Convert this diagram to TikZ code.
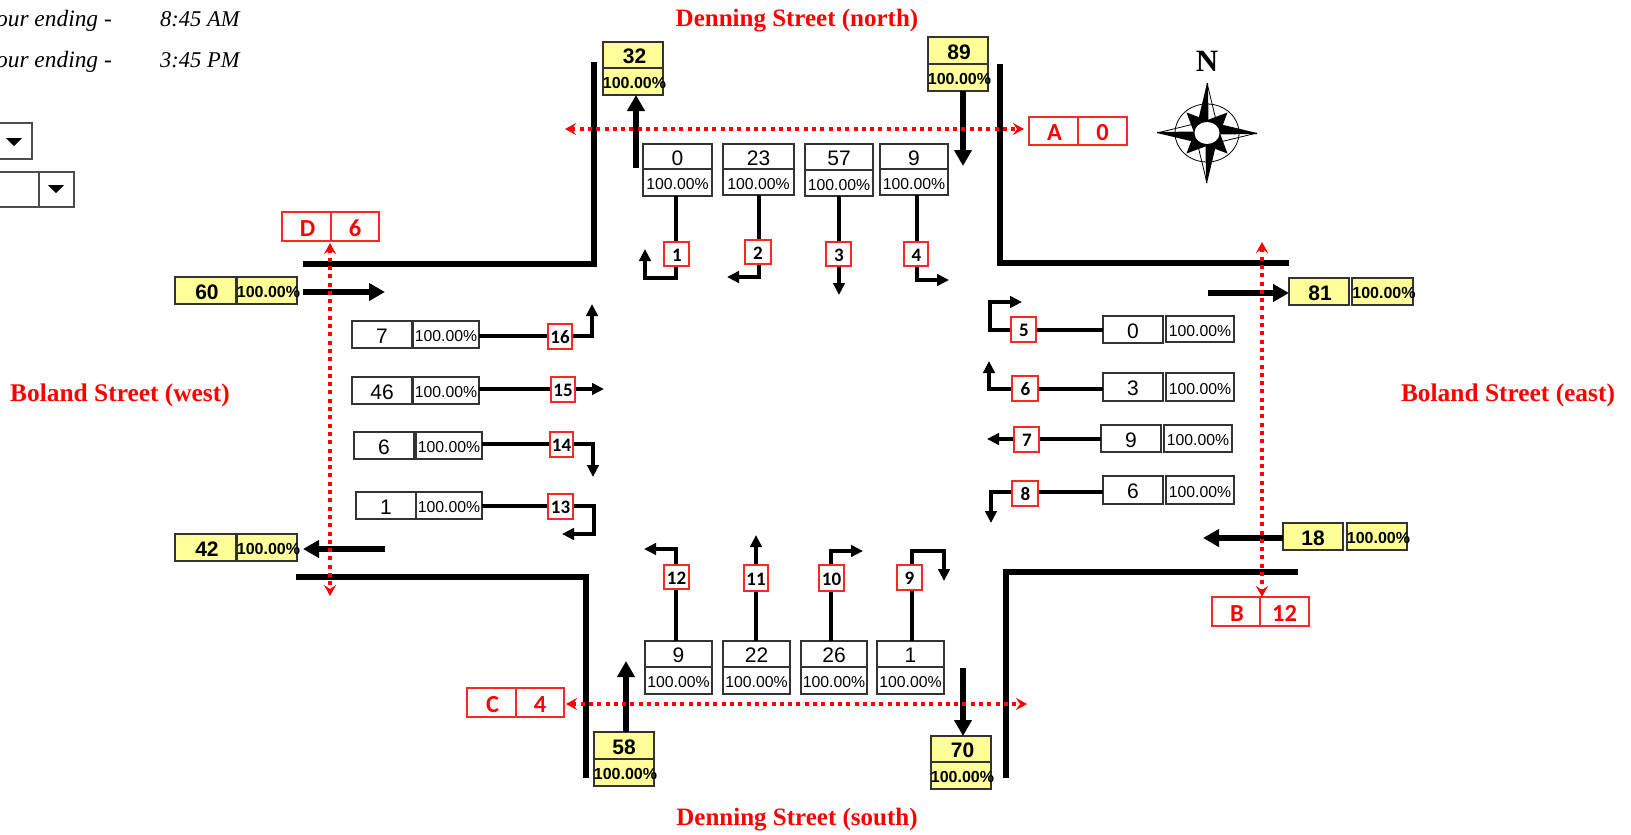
\documentclass[tikz,border=0pt]{standalone}
\usepackage{fontspec}
\setmainfont{Liberation Serif}
\setsansfont{Liberation Sans}
\newfontfamily\calib{Carlito}
\usetikzlibrary{arrows.meta}
\definecolor{boxline}{HTML}{333333}
\definecolor{sheetyellow}{HTML}{FFFF99}
\def\cellraise{0pt}
\tikzset{
  cellbase/.style={rectangle,inner sep=0pt,outer sep=0pt,line width=1.1pt},
  lanebox/.style={cellbase,draw=boxline,fill=white,font=\sffamily\fontsize{21}{24}\selectfont,execute at begin node={\def\cellraise{\dimexpr-0.36em-1pt\relax}}},
  lanepct/.style={cellbase,draw=boxline,fill=white,font=\sffamily\fontsize{15.8}{19}\selectfont,execute at begin node={\def\cellraise{\dimexpr-0.36em-1.5pt\relax}}},
  totalbox/.style={cellbase,draw=boxline,fill=sheetyellow,font=\sffamily\bfseries\fontsize{21}{24}\selectfont,execute at begin node={\def\cellraise{\dimexpr-0.36em-1pt\relax}}},
  totalpct/.style={cellbase,draw=boxline,fill=sheetyellow,font=\sffamily\bfseries\fontsize{16}{19}\selectfont,execute at begin node={\def\cellraise{\dimexpr-0.36em-1.5pt\relax}}},
  numbox/.style={cellbase,draw=red!85!white,fill=white,font=\calib\bfseries\fontsize{19}{22}\selectfont,execute at begin node={\def\cellraise{\dimexpr-0.32em-1pt\relax}}},
  pedbox/.style={cellbase,draw=red!85!white,fill=white,text=red,font=\calib\bfseries\fontsize{24.5}{26}\selectfont,execute at begin node={\def\cellraise{\dimexpr-0.32em-2pt\relax}}},
  streetname/.style={inner sep=0pt,text=red,font=\rmfamily\bfseries\fontsize{25}{28}\selectfont},
  boland/.style={inner sep=0pt,text=red,font=\rmfamily\bfseries\fontsize{25.4}{28}\selectfont},
  note/.style={inner sep=0pt,font=\rmfamily\itshape\fontsize{22.5}{26}\selectfont},
  noteleft/.style={inner sep=0pt,font=\rmfamily\itshape\fontsize{23.4}{26}\selectfont},
  road/.style={line width=5.5pt,miter limit=10},
  conn/.style={line width=4pt,-{Triangle[length=12pt,width=11.5pt]}},
  flow/.style={line width=6pt,-{Triangle[length=16pt,width=17pt]}},
  ped/.style={red,line width=4pt,dash pattern=on 4pt off 4.3pt,{Stealth[length=11pt,width=12pt,inset=4pt]}-{Stealth[length=11pt,width=12pt,inset=4pt]}},
  combo/.style={draw=black!70,line width=1.2pt},
}
\newcommand{\tcell}[7]{%
  \pgfmathsetmacro\cellw{#4-#2}\pgfmathsetmacro\cellh{#5-#3}%
  \node[#6,minimum width=\cellw pt,minimum height=\cellh pt] (#1) at ({(#2+#4)/2},{(#3+#5)/2}) {\makebox[0pt]{\raisebox{\cellraise}[0.3em][0.3em]{#7}}};}
\begin{document}
\begin{tikzpicture}[x=1pt,y=-1pt]
\path[use as bounding box,clip] (0,0) rectangle (1631,835);
\fill[white] (0,0) rectangle (1631,835);

% notes and controls
\node[noteleft,anchor=base east] (n1) at (112,26) {our ending -};
\node[note,anchor=base west] (n2) at (160,26) {8:45 AM};
\node[noteleft,anchor=base east] (n3) at (112,67) {our ending -};
\node[note,anchor=base west] (n4) at (160,67) {3:45 PM};
\draw[combo] (-5,123) rectangle (32,159);
\fill[black] (6,138) -- (22,138) -- (14,146) -- cycle;
\draw[combo] (-5,172) rectangle (74,207);
\draw[combo] (39,172) -- (39,207);
\fill[black] (48,185) -- (64,185) -- (56,193) -- cycle;

% street names
\node[streetname] (dn) at (797,21) {Denning Street (north)};
\node[streetname] (ds) at (797,820) {Denning Street (south)};
\node[boland] (bw) at (120,395) {Boland Street (west)};
\node[boland] (be) at (1508,395) {Boland Street (east)};

% roads
\draw[road] (303,264) -- (594,264) -- (594,62);
\draw[road] (1000,64) -- (1000,263) -- (1289,263);
\draw[road] (296,577) -- (586,577) -- (586,778);
\draw[road] (1006,778) -- (1006,572) -- (1298,572);

% north lanes
\tcell{na}{643}{144}{712}{169}{lanebox}{0}\tcell{nap}{643}{169}{712}{196}{lanepct}{100.00\%}
\tcell{nb}{723}{144}{794}{169}{lanebox}{23}\tcell{nbp}{723}{169}{794}{195}{lanepct}{100.00\%}
\tcell{nc}{805}{144}{873}{170}{lanebox}{57}\tcell{ncp}{805}{170}{873}{196}{lanepct}{100.00\%}
\tcell{nd}{880}{144}{948}{169}{lanebox}{9}\tcell{ndp}{880}{169}{948}{195}{lanepct}{100.00\%}
% west lanes
\tcell{wa}{352}{321}{412}{348}{lanebox}{7}\tcell{wap}{413}{321}{479}{348}{lanepct}{100.00\%}
\tcell{wb}{352}{377}{412}{404}{lanebox}{46}\tcell{wbp}{413}{377}{479}{404}{lanepct}{100.00\%}
\tcell{wc}{354}{432}{414}{459}{lanebox}{6}\tcell{wcp}{416}{432}{482}{459}{lanepct}{100.00\%}
\tcell{wd}{356}{492}{416}{519}{lanebox}{1}\tcell{wdp}{416}{492}{482}{519}{lanepct}{100.00\%}
% east lanes
\tcell{ea}{1103}{316}{1163}{343}{lanebox}{0}\tcell{eap}{1166}{316}{1234}{342}{lanepct}{100.00\%}
\tcell{eb}{1103}{373}{1163}{401}{lanebox}{3}\tcell{ebp}{1166}{373}{1234}{401}{lanepct}{100.00\%}
\tcell{ec}{1101}{425}{1161}{452}{lanebox}{9}\tcell{ecp}{1164}{425}{1232}{452}{lanepct}{100.00\%}
\tcell{ed}{1103}{476}{1163}{504}{lanebox}{6}\tcell{edp}{1166}{476}{1234}{504}{lanepct}{100.00\%}
% south lanes
\tcell{sa}{645}{641}{712}{667}{lanebox}{9}\tcell{sap}{645}{667}{712}{694}{lanepct}{100.00\%}
\tcell{sb}{723}{641}{790}{667}{lanebox}{22}\tcell{sbp}{723}{667}{790}{694}{lanepct}{100.00\%}
\tcell{sc}{801}{641}{867}{667}{lanebox}{26}\tcell{scp}{801}{667}{867}{694}{lanepct}{100.00\%}
\tcell{sd}{877}{641}{944}{667}{lanebox}{1}\tcell{sdp}{877}{667}{944}{694}{lanepct}{100.00\%}

% totals
\tcell{ya}{603}{42}{663}{68}{totalbox}{\hspace{3pt}32}\tcell{yap}{603}{68}{663}{95}{totalpct}{\hspace{3pt}100.00\%}
\tcell{yb}{928}{37}{988}{64}{totalbox}{\hspace{2pt}89}\tcell{ybp}{928}{64}{988}{91}{totalpct}{\hspace{3pt}100.00\%}
\tcell{yc}{175}{277}{236}{304}{totalbox}{\hspace{3pt}60}\tcell{ycp}{237}{277}{297}{304}{totalpct}{\hspace{3pt}100.00\%}
\tcell{yd}{175}{534}{236}{561}{totalbox}{\hspace{3pt}42}\tcell{ydp}{237}{534}{297}{561}{totalpct}{\hspace{3pt}100.00\%}
\tcell{ye}{1289}{278}{1349}{305}{totalbox}{\hspace{2pt}81}\tcell{yep}{1352}{278}{1413}{305}{totalpct}{\hspace{3pt}100.00\%}
\tcell{yf}{1283}{523}{1343}{550}{totalbox}{18}\tcell{yfp}{1347}{523}{1407}{550}{totalpct}{\hspace{3pt}100.00\%}
\tcell{yg}{594}{732}{654}{759}{totalbox}{58}\tcell{ygp}{594}{759}{654}{786}{totalpct}{\hspace{3pt}100.00\%}
\tcell{yh}{931}{736}{991}{762}{totalbox}{\hspace{3pt}70}\tcell{yhp}{931}{762}{991}{789}{totalpct}{\hspace{3pt}100.00\%}

% through-flow arrows
\coordinate (fa) at (636,168); \draw[flow] (fa) -- (fa |- yap.south);
\coordinate (fb) at (963,166); \draw[flow] (fb |- ybp.south) -- (fb);
\coordinate (fc) at (385,292); \draw[flow] (303,292) -- (fc);
\coordinate (fd) at (385,549); \draw[flow] (fd) -- (303,549);
\coordinate (fe) at (1208,293); \draw[flow] (fe) -- (fe -| ye.west);
\coordinate (ff) at (1203,538); \draw[flow] (ff -| yf.west) -- (ff);
\coordinate (fg) at (626,661); \draw[flow] (fg |- yg.north) -- (fg);
\coordinate (fh) at (963,668); \draw[flow] (fh) -- (fh |- yh.north);

% turning connectors
\coordinate (c1) at (676,278); \coordinate (t1) at (645,249);
\draw[conn] (c1 |- nap.south) -- (c1) -| (t1);
\coordinate (c2) at (759,277); \coordinate (t2) at (727,277);
\draw[conn] (c2 |- nbp.south) -- (c2) -- (t2);
\coordinate (t3) at (839,295);
\draw[conn] (t3 |- ncp.south) -- (t3);
\coordinate (c4) at (917,280); \coordinate (t4) at (949,280);
\draw[conn] (c4 |- ndp.south) -- (c4) -- (t4);
\coordinate (c5) at (990,330); \coordinate (d5) at (990,302); \coordinate (t5) at (1022,302);
\draw[conn] (ea.west |- c5) -- (c5) -- (d5) -- (t5);
\coordinate (c6) at (989,389); \coordinate (t6) at (989,361);
\draw[conn] (eb.west |- c6) -- (c6) -- (t6);
\coordinate (t7) at (987,439);
\draw[conn] (ec.west |- t7) -- (t7);
\coordinate (c8) at (991,492); \coordinate (t8) at (991,523);
\draw[conn] (ed.west |- c8) -- (c8) -- (t8);
\coordinate (c9) at (912,551); \coordinate (d9) at (944,551); \coordinate (t9) at (944,581);
\draw[conn] (c9 |- sd.north) -- (c9) -- (d9) -- (t9);
\coordinate (c10) at (831,551); \coordinate (t10) at (863,551);
\draw[conn] (c10 |- sc.north) -- (c10) -- (t10);
\coordinate (t11) at (756,535);
\draw[conn] (t11 |- sb.north) -- (t11);
\coordinate (c12) at (676,549); \coordinate (t12) at (644,549);
\draw[conn] (c12 |- sa.north) -- (c12) -- (t12);
\coordinate (c13) at (594,506); \coordinate (d13) at (594,534); \coordinate (t13) at (562,534);
\draw[conn] (wdp.east |- c13) -- (c13) -- (d13) -- (t13);
\coordinate (c14) at (593,444); \coordinate (t14) at (593,477);
\draw[conn] (wcp.east |- c14) -- (c14) -- (t14);
\coordinate (t15) at (604,389);
\draw[conn] (wbp.east |- t15) -- (t15);
\coordinate (c16) at (592,336); \coordinate (t16) at (592,304);
\draw[conn] (wap.east |- c16) -- (c16) -- (t16);

% movement numbers
\tcell{m1}{664}{242}{689}{266}{numbox}{\hspace{1pt}1}
\tcell{m2}{745}{240}{771}{264}{numbox}{2}
\tcell{m3}{826}{242}{851}{266}{numbox}{\hspace{1pt}3}
\tcell{m4}{904}{242}{928}{266}{numbox}{\hspace{1pt}4}
\tcell{m5}{1011}{317}{1036}{342}{numbox}{\hspace{1pt}5}
\tcell{m6}{1012}{376}{1038}{401}{numbox}{\hspace{1pt}6}
\tcell{m7}{1014}{427}{1039}{452}{numbox}{\hspace{1pt}7}
\tcell{m8}{1012}{481}{1038}{506}{numbox}{\hspace{1pt}8}
\tcell{m9}{897}{565}{922}{590}{numbox}{9}
\tcell{m10}{819}{565}{844}{591}{numbox}{10}
\tcell{m11}{744}{565}{768}{591}{numbox}{11}
\tcell{m12}{664}{565}{689}{589}{numbox}{12}
\tcell{m13}{548}{494}{573}{519}{numbox}{13}
\tcell{m14}{550}{432}{573}{457}{numbox}{14}
\tcell{m15}{551}{377}{575}{402}{numbox}{15}
\tcell{m16}{548}{324}{572}{349}{numbox}{16}

% pedestrian crossings
\tcell{pa}{1029}{117}{1078}{145}{pedbox}{\hspace{2pt}A}\tcell{pav}{1078}{117}{1127}{145}{pedbox}{0}
\tcell{pb}{1212}{597}{1260}{626}{pedbox}{\hspace{2pt}B}\tcell{pbv}{1260}{597}{1309}{626}{pedbox}{12}
\tcell{pc}{467}{688}{516}{717}{pedbox}{\hspace{2pt}C}\tcell{pcv}{516}{688}{564}{717}{pedbox}{4}
\tcell{pd}{282}{212}{331}{241}{pedbox}{\hspace{2pt}D}\tcell{pdv}{331}{212}{379}{241}{pedbox}{6}
\coordinate (qa1) at (565,129); \coordinate (qa2) at (1024,129);
\draw[ped] (qa1) -- (qa2);
\coordinate (qb1) at (1262,242); \coordinate (qb2) at (1262,597);
\draw[ped] (qb1) -- (qb2);
\coordinate (qc1) at (566,704); \coordinate (qc2) at (1027,704);
\draw[ped] (qc1) -- (qc2);
\coordinate (qd1) at (330,243); \coordinate (qd2) at (330,596);
\draw[ped] (qd1) -- (qd2);

% compass
\node[inner sep=0pt,font=\rmfamily\bfseries\fontsize{31}{34}\selectfont] (north) at (1207,61) {N};
\begin{scope}[shift={(1207,133)}]
  \draw[line width=0.8pt] (0,0) ellipse (32 and 29);
  \foreach \a in {45,135,225,315}
    \fill[black,rotate=\a] (0,-29) -- (-10,-7) -- (0,-2) -- (10,-7) -- cycle;
  \foreach \a in {0,90,180,270} {
    \draw[line width=0.8pt,rotate=\a] (0,-50) -- (9,-13);
    \fill[black,rotate=\a] (0,-50) -- (-9.5,-10) -- (1.5,-8) -- (1,-50) -- cycle;
  }
  \fill[white] (0,0) ellipse (12.5 and 11);
\end{scope}
\end{tikzpicture}
\end{document}
